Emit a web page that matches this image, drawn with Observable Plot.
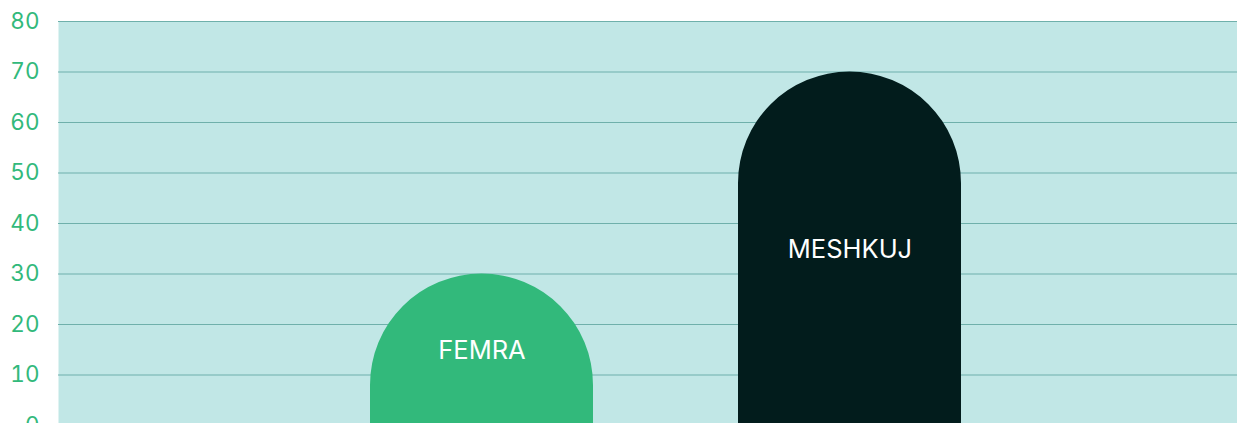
<!DOCTYPE html>
<html>
<head>
<meta charset="utf-8">
<script src="https://cdn.jsdelivr.net/npm/d3@7"></script>
<script src="https://cdn.jsdelivr.net/npm/@observablehq/plot@0.6"></script>
<style>
  html, body { margin: 0; padding: 0; background: #ffffff; overflow: hidden; }
  #chart svg { display: block; }
</style>
</head>
<body>
<div id="chart"></div>
<script>
const categories = ["FEMRA", "MESHKUJ"];
const values = [30, 70];
const barColors = ["#32b97b", "#021c1c"];
const yTicks = [0, 10, 20, 30, 40, 50, 60, 70, 80];

const data = categories.map((c, i) => ({cat: c, value: values[i], color: barColors[i]}));

const chart = Plot.plot({
  width: 1237,
  height: 445,
  marginTop: 21,
  marginBottom: 20,
  marginLeft: 58,
  marginRight: 0,
  style: {color: "#32b97b", fontSize: "22.5px", fontFamily: "Inter, 'Noto Sans', sans-serif", background: "#ffffff"},
  x: {type: "band", domain: categories, range: [224, 1107], padding: 0.393, axis: null},
  y: {domain: [0, 80], ticks: yTicks, tickSize: 0, tickPadding: 19, label: null, tickFormat: d => String(d)},
  marks: [
    Plot.frame({fill: "#c1e7e6", stroke: null}),
    Plot.ruleY(yTicks, {stroke: "#6fb0ab", strokeWidth: 1.2}),
    Plot.barY(data, {x: "cat", y: "value", fill: "color", className: "pill"}),
    Plot.text(data, {x: "cat", y: d => d.value / 2, text: "cat", fill: "#ffffff", fontSize: 25.5, dy: 1, fontFamily: "Inter, 'Noto Sans', sans-serif"})
  ]
});

// Turn each bar rect into a bar with a fully rounded (semicircular) top
chart.querySelectorAll(".pill rect").forEach(rect => {
  const x = +rect.getAttribute("x"), y = +rect.getAttribute("y");
  const w = +rect.getAttribute("width"), h = +rect.getAttribute("height");
  const r = w / 2;
  const p = document.createElementNS("http://www.w3.org/2000/svg", "path");
  p.setAttribute("d", `M${x},${y + h}L${x},${y + r}A${r},${r} 0 0 1 ${x + w},${y + r}L${x + w},${y + h}Z`);
  for (const a of ["fill", "fill-opacity", "stroke"]) if (rect.hasAttribute(a)) p.setAttribute(a, rect.getAttribute(a));
  rect.replaceWith(p);
});

document.getElementById("chart").appendChild(chart);
</script>
</body>
</html>
